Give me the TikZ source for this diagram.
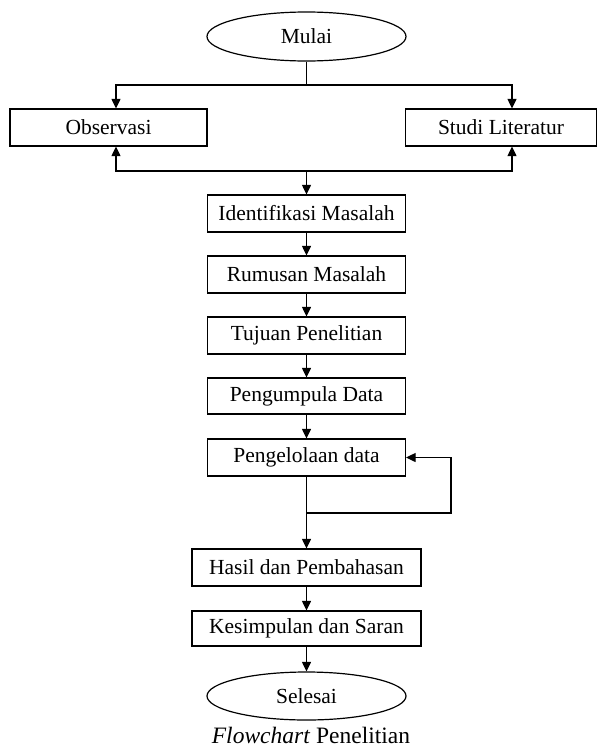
\documentclass[tikz,border=0pt]{standalone}
\usepackage{fontspec}
\setmainfont{Liberation Serif}
\usetikzlibrary{arrows.meta,shapes.geometric}
\begin{document}
\begin{tikzpicture}[x=1pt,y=-1pt,
  line width=1.2pt,
  every node/.style={font=\fontsize{21.5}{25}\selectfont, inner sep=0pt},
  box/.style={draw, rectangle, minimum height=37pt},
  term/.style={draw, ellipse, minimum width=199pt, minimum height=49pt},
  arr/.style={-{Triangle[length=9.5pt,width=9pt]}},
  ln/.style={-}]
\useasboundingbox (0,0) rectangle (598,747);
\node[term] (mulai) at (306.5,36.5) {Mulai};
\node[box, minimum width=197pt] (obs) at (108.5,127.5) {Observasi};
\node[box, minimum width=191pt] (studi) at (501,127.5) {Studi Literatur};
\node[box, minimum width=198pt] (ident) at (306.5,213.5) {Identifikasi Masalah};
\node[box, minimum width=198pt] (rumus) at (306.5,274.5) {Rumusan Masalah};
\node[box, minimum width=198pt] (tujuan) at (306.5,335.5) {Tujuan Penelitian};
\node[box, minimum width=198pt, minimum height=36pt] (kumpul) at (306.5,396) {Pengumpula Data};
\node[box, minimum width=198pt] (kelola) at (306.5,457.5) {Pengelolaan data};
\node[box, minimum width=229pt] (hasil) at (306.5,567.5) {Hasil dan Pembahasan};
\node[box, minimum width=229pt, minimum height=35pt] (simpul) at (306.5,628.5) {Kesimpulan dan Saran};
\node[term, minimum height=48pt] (selesai) at (306.5,696) {Selesai};
\node[font=\fontsize{23.5}{26}\selectfont, anchor=base] (cap) at (311,743) {\textit{Flowchart} Penelitian};

\coordinate (split) at (306.5,85);
\coordinate (join) at (306.5,171);
\coordinate (loop) at (306.5,513);
\coordinate (loopr) at (451,513);

\draw[ln] (mulai.south) -- (split);
\draw[arr] (split) -| ([xshift=7.5pt]obs.north);
\draw[arr] (split) -| ([xshift=11pt]studi.north);
\draw[arr] (join) -| ([xshift=7.5pt]obs.south);
\draw[arr] (join) -| ([xshift=11pt]studi.south);
\draw[arr] (join) -- (ident.north);
\draw[arr] (ident) -- (rumus);
\draw[arr] (rumus) -- (tujuan);
\draw[arr] (tujuan) -- (kumpul);
\draw[arr] (kumpul) -- (kelola);
\draw[arr] (kelola) -- (hasil);
\draw[arr] (loop) -- (loopr) |- (kelola.east);
\draw[arr] (hasil) -- (simpul);
\draw[arr] (simpul) -- (selesai);
\end{tikzpicture}
\end{document}
